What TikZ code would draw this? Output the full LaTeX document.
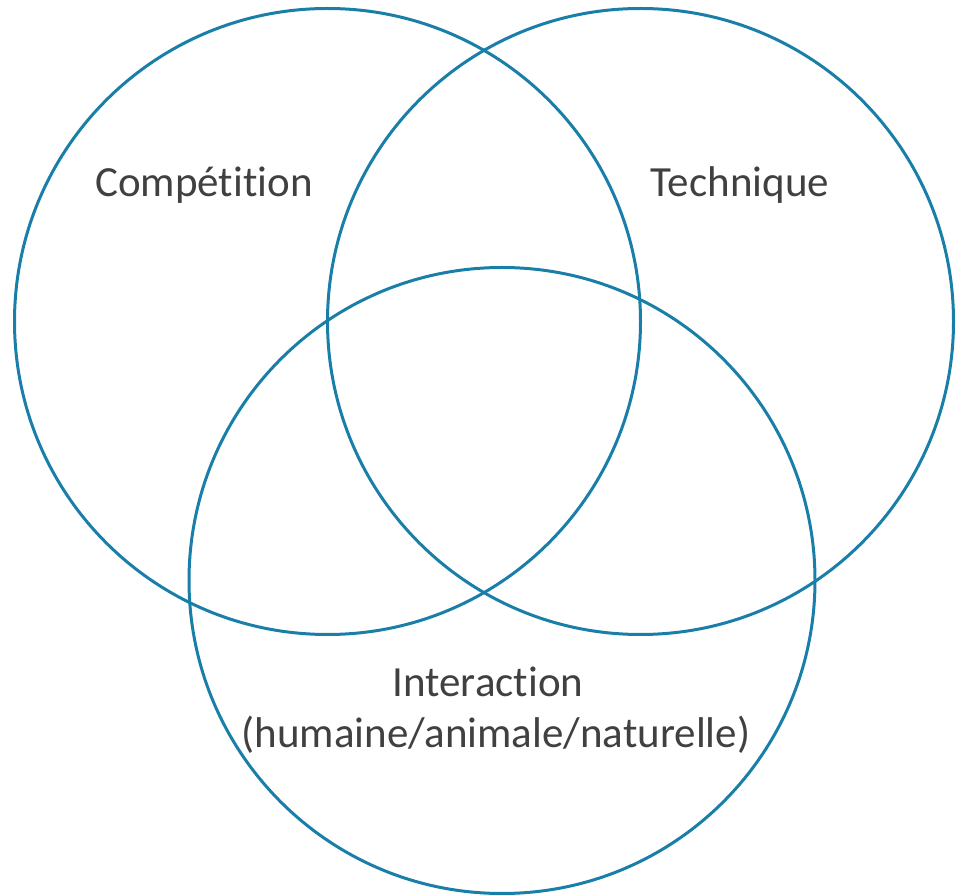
\documentclass[tikz,border=0pt]{standalone}
\usepackage{fontspec}
\setmainfont{Carlito}[RawFeature=-liga]
\usepackage{tikz}
\usetikzlibrary{calc}
\usetikzlibrary{positioning}

\definecolor{venn}{HTML}{1A7FA8}
\definecolor{txt}{HTML}{404040}

\begin{document}
\begin{tikzpicture}[x=1pt,y=1pt,
    ring/.style={draw=venn,line width=3pt},
    lbl/.style={text=txt,font=\fontsize{43}{52}\selectfont,anchor=base,inner sep=0pt}]
    \useasboundingbox (0,0) rectangle (959,895);
    \pgfmathsetmacro{\r}{313}
    \path (327.5,573.5) coordinate (comp) (640.5,573.5) coordinate (tech)
    (502,314.5) coordinate (inter);
    \draw[ring] (comp) circle (\r);
    \draw[ring] (tech) circle (\r);
    \draw[ring] (inter) circle (\r);
    
    \node[lbl] (compl) at (204,698) {Compétition};
    \node[lbl] (techl) at (740,698) {Technique};
    \node[lbl] (interl) at (488,198) {Interaction};
    \node[lbl,below=51pt of interl.base,anchor=base,xshift=8pt] (interl2) {(humaine/animale/naturelle)};
    
    \end{tikzpicture}
\end{document}
